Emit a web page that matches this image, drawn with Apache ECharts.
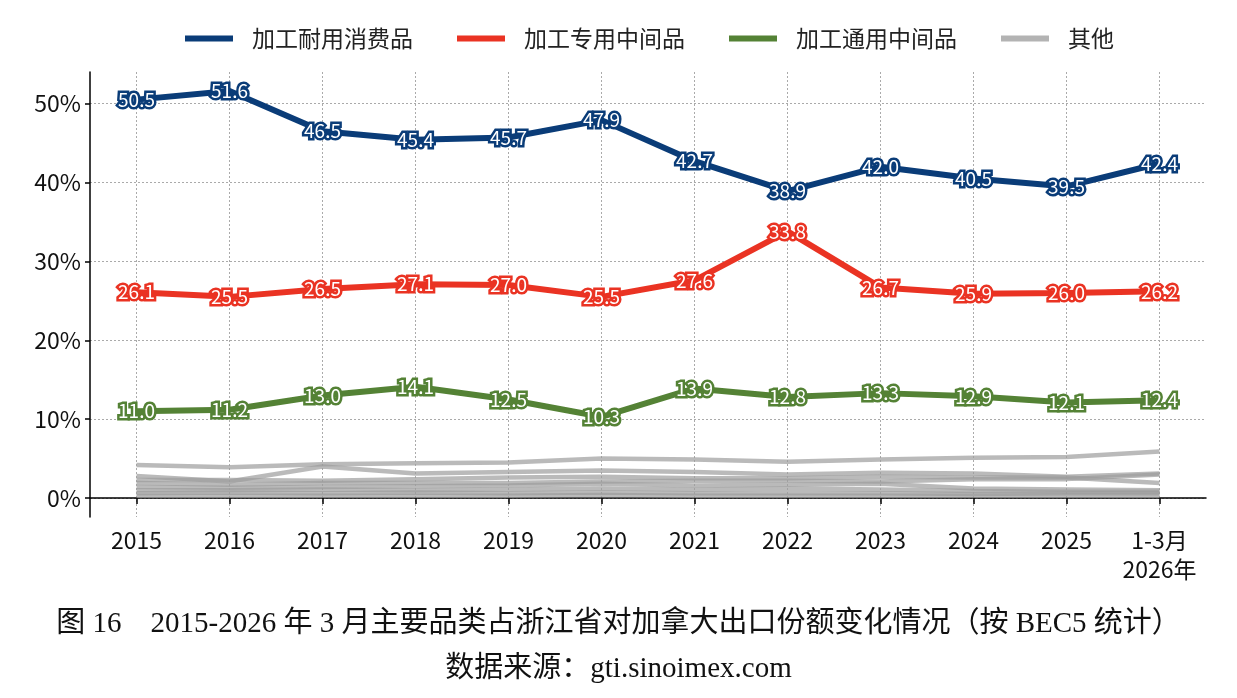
<!DOCTYPE html>
<html lang="zh">
<head>
    <meta charset="UTF-8">
    <title>浙江省对加拿大出口份额</title>
    <style>
        html, body { margin: 0; padding: 0; background: #fff; }
        #main { width: 1237px; height: 698px; }
    </style>
</head>
<body>
<div id="main"></div>
<script src="https://cdn.jsdelivr.net/npm/echarts@6/dist/echarts.min.js"></script>
<script>
    var categories = ['2015', '2016', '2017', '2018', '2019', '2020', '2021', '2022', '2023', '2024', '2025', '1-3月\n2026年'];

    var durable = [50.5, 51.6, 46.5, 45.4, 45.7, 47.9, 42.7, 38.9, 42.0, 40.5, 39.5, 42.4];
    var special = [26.1, 25.5, 26.5, 27.1, 27.0, 25.5, 27.6, 33.8, 26.7, 25.9, 26.0, 26.2];
    var general = [11.0, 11.2, 13.0, 14.1, 12.5, 10.3, 13.9, 12.8, 13.3, 12.9, 12.1, 12.4];

    // 其他品类（图中未标数值，按位置估读）
    var other1 = [4.2, 3.9, 4.3, 4.4, 4.5, 5.0, 4.9, 4.6, 4.9, 5.1, 5.2, 5.9];
    var other2 = [2.8, 2.1, 4.0, 3.1, 3.3, 3.5, 3.3, 3.0, 3.2, 3.1, 2.7, 3.1];
    var other3 = [2.3, 2.3, 2.2, 2.4, 2.6, 2.7, 2.5, 2.5, 2.7, 2.6, 2.6, 1.9];
    var other4 = [1.9, 1.7, 1.9, 1.9, 1.9, 2.1, 2.2, 2.2, 2.1, 2.4, 2.4, 3.0];
    var other5 = [1.4, 1.3, 1.4, 1.5, 1.6, 1.8, 1.6, 1.7, 1.8, 1.2, 1.1, 1.0];
    var other6 = [1.0, 1.0, 1.1, 1.0, 1.1, 1.2, 1.1, 1.2, 1.1, 0.9, 0.8, 0.8];
    var other7 = [0.6, 0.7, 0.6, 0.7, 0.6, 0.7, 0.6, 0.6, 0.6, 0.5, 0.6, 0.6];
    var other8 = [0.3, 0.3, 0.3, 0.3, 0.3, 0.4, 0.3, 0.3, 0.3, 0.3, 0.3, 0.3];
    var others = [other1, other2, other3, other4, other5, other6, other7, other8];

    var yTicks = [0, 10, 20, 30, 40, 50];

    var font = '"Noto Sans CJK SC", "Noto Sans", sans-serif';
    var serif = '"Liberation Serif", "Noto Sans CJK SC", serif';

    var mainLine = function (name, color, data) {
        return {
            name: name,
            type: 'line',
            data: data,
            z: 5,
            symbol: 'circle',
            symbolSize: 1,
            itemStyle: {color: color},
            lineStyle: {color: color, width: 6},
            label: {
                show: true,
                position: 'inside',
                color: '#fff',
                fontFamily: font,
                fontSize: 19,
                textBorderColor: color,
                textBorderWidth: 5,
                formatter: function (p) {
                    return p.value.toFixed(1);
                }
            },
            animation: false
        };
    };

    var series = [];
    others.forEach(function (d) {
        series.push({
            name: '其他',
            type: 'line',
            data: d,
            z: 2,
            symbol: 'none',
            itemStyle: {color: '#b3b3b3'},
            lineStyle: {color: '#9c9c9c', width: 4.5, opacity: 0.7},
            animation: false
        });
    });
    series.push(mainLine('加工通用中间品', '#548235', general));
    series.push(mainLine('加工专用中间品', '#ea3323', special));
    series.push(mainLine('加工耐用消费品', '#0a3c78', durable));

    var option = {
        backgroundColor: '#fff',
        title: [
            {
                text: '图 16　2015-2026 年 3 月主要品类占浙江省对加拿大出口份额变化情况（按 BEC5 统计）',
                left: 'center',
                top: 605,
                textStyle: {
                    fontFamily: serif,
                    fontWeight: 'normal',
                    fontSize: 29,
                    color: '#111'
                }
            },
            {
                text: '数据来源：gti.sinoimex.com',
                left: 'center',
                top: 650,
                textStyle: {
                    fontFamily: serif,
                    fontWeight: 'normal',
                    fontSize: 29,
                    color: '#111'
                }
            }
        ],
        legend: {
            top: 22,
            left: 180,
            itemGap: 44,
            itemWidth: 48,
            itemHeight: 6,
            icon: 'rect',
            data: ['加工耐用消费品', '加工专用中间品', '加工通用中间品', '其他'],
            textStyle: {fontFamily: font, fontSize: 23, color: '#222', padding: [0, 0, 0, 14]}
        },
        grid: {
            left: 90,
            right: 31,
            top: 72,
            bottom: 181,
            containLabel: false
        },
        xAxis: {
            type: 'category',
            data: categories,
            boundaryGap: true,
            axisLine: {lineStyle: {color: '#000', width: 1.5}},
            axisTick: {show: true, interval: 0, alignWithLabel: true, length: 6, lineStyle: {color: '#000', width: 1.5}},
            axisLabel: {
                interval: 0,
                color: '#111',
                fontFamily: font,
                fontSize: 23,
                margin: 9,
                lineHeight: 29,
                verticalAlign: 'top'
            },
            splitLine: {
                show: true,
                interval: 0,
                alignWithLabel: true,
                lineStyle: {color: '#aaa', type: [2, 2], width: 1}
            }
        },
        yAxis: {
            type: 'value',
            min: -2.4,
            max: 54,
            axisLine: {show: true, lineStyle: {color: '#000', width: 1.5}},
            axisTick: {show: true, length: 5, customValues: yTicks, lineStyle: {color: '#000', width: 1.5}},
            axisLabel: {
                customValues: yTicks,
                formatter: '{value}%',
                color: '#111',
                fontFamily: font,
                fontSize: 23,
                margin: 9
            },
            splitLine: {
                show: true,
                lineStyle: {color: '#aaa', type: [2, 2], width: 1}
            }
        },
        series: series
    };

    var chart = echarts.init(document.getElementById('main'));
    chart.setOption(option);
</script>
</body>
</html>
